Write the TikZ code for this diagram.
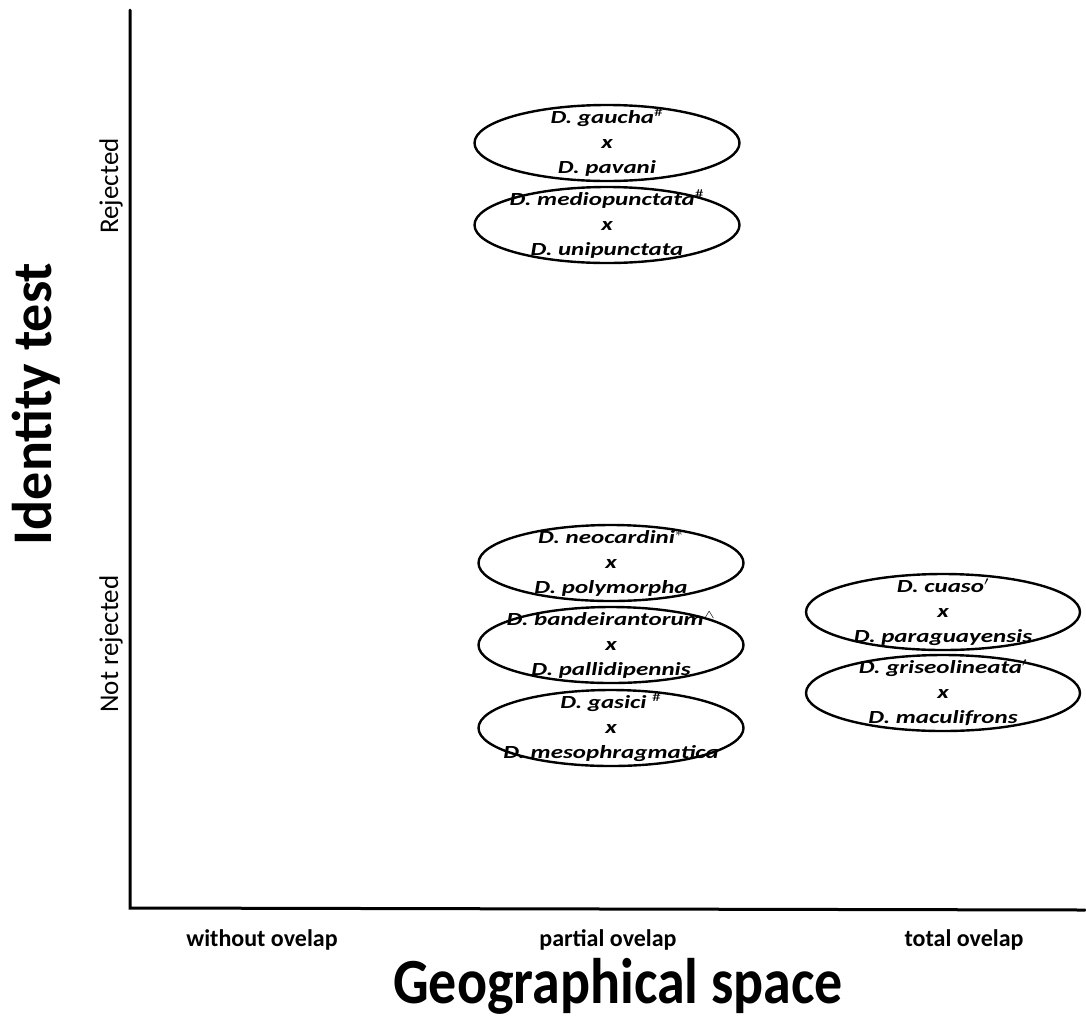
\documentclass[tikz,border=0pt]{standalone}
\usepackage{fontspec}
\setmainfont{Carlito}
\usetikzlibrary{shapes.geometric}

% three-line species pair, set bold italic and widened a little
\newcommand{\crosspair}[2]{\scalebox{1.35}[1]{\begin{tabular}{@{}c@{}}#1\\x\\#2\end{tabular}}}

\tikzset{
  pair/.style={draw, ellipse, line width=2.4pt, minimum width=265pt, minimum height=76pt, inner sep=0pt},
  pairtext/.style={inner sep=0pt, font=\fontsize{18.5}{25}\selectfont\bfseries\itshape},
  axisline/.style={line width=3pt, line cap=round},
  tick/.style={font=\fontsize{24}{26}\selectfont\bfseries},
  level/.style={font=\fontsize{27}{29}\selectfont, rotate=90},
  axtitle/.style={font=\fontsize{56}{60}\selectfont\bfseries, anchor=base}
}

\begin{document}
\begin{tikzpicture}[x=1pt, y=-1pt]
\useasboundingbox (0,0) rectangle (1086,1034);

% axes
\coordinate (top) at (130,10);
\coordinate (origin) at (130,908);
\coordinate (right) at (1085,910);
\draw[axisline] (top) -- (origin) -- (right);

% species pairs: outlines
\node[pair] (gau) at (607,143) {};
\node[pair] (med) at (607,225) {};
\node[pair] (neo) at (611,563) {};
\node[pair] (ban) at (611,645) {};
\node[pair] (gas) at (611,728) {};
\node[pair, minimum width=274pt] (cua) at (943,612) {};
\node[pair, minimum width=274pt] (gri) at (943,693) {};

% species pairs: names
\node[pairtext] (gau-t) at (gau.center) {\crosspair{D. gaucha$^{\#}$}{D. pavani}};
\node[pairtext] (med-t) at (med.center) {\crosspair{D. mediopunctata$^{\#}$}{D. unipunctata}};
\node[pairtext] (neo-t) at (neo.center) {\crosspair{D. neocardini$^{*}$}{D. polymorpha}};
\node[pairtext] (ban-t) at (ban.center) {\crosspair{D. bandeirantorum$^{\wedge}$}{D. pallidipennis}};
\node[pairtext] (gas-t) at (gas.center) {\crosspair{D. gasici $^{\#}$}{D. mesophragmatica}};
\node[pairtext] (cua-t) at (cua.center) {\crosspair{D. cuaso$^{\prime}$}{D. paraguayensis}};
\node[pairtext] (gri-t) at (gri.center) {\crosspair{D. griseolineata$^{\prime}$}{D. maculifrons}};

% test outcome levels
\node[level] (rej) at (111,186) {Rejected};
\node[level] (nrej) at (111,644) {Not rejected};

% geographical categories
\node[tick] (wo) at (262,940) {without ovelap};
\node[tick] (po) at (608,940) {partial ovelap};
\node[tick] (to) at (964,940) {total ovelap};

% axis titles
\node[axtitle, rotate=90] (ytitle) at (51,404) {Identity test};
\node[axtitle] (xtitle) at (618,1003) {\scalebox{1}[1.15]{Geographical space}};
\end{tikzpicture}
\end{document}
